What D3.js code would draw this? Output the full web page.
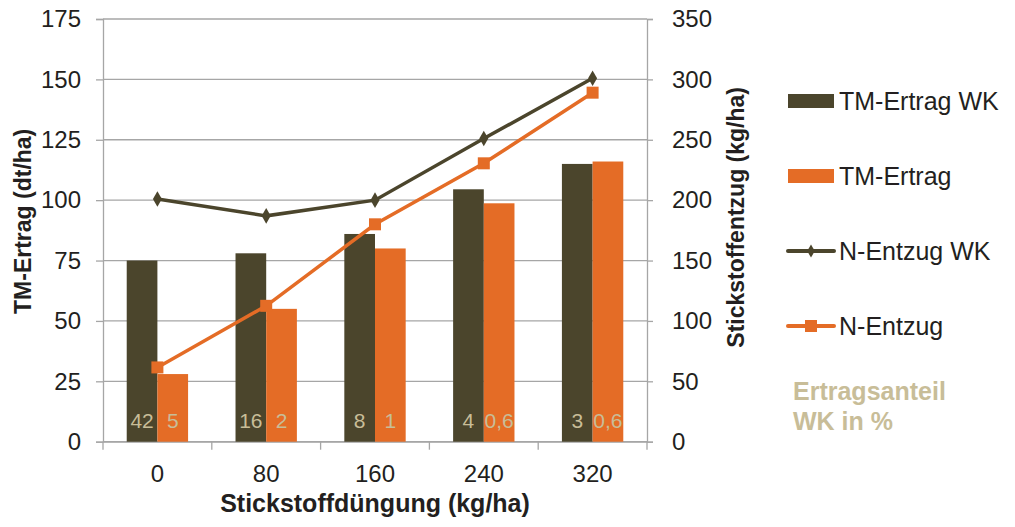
<!DOCTYPE html>
<html>
<head>
<meta charset="utf-8">
<script src="https://cdn.jsdelivr.net/npm/d3@7"></script>
<style>
  body { margin: 0; background: #fff; }
  text { font-family: "Liberation Sans", Arial, sans-serif; }
</style>
</head>
<body>
<svg id="chart" width="1015" height="527"></svg>
<script>
// Nitrogen fertilisation levels (kg/ha)
const categories = ["0", "80", "160", "240", "320"];
// Dry matter yield (dt/ha)
const ertragWK = [75, 78, 86, 104.5, 115];
const ertrag = [28, 55, 80, 98.7, 116];
// Nitrogen uptake (kg/ha)
const entzugWK = [201, 187, 200, 251, 301];
const entzug = [61.5, 112.5, 180, 230.5, 289];
// Yield share of weeds in %
const anteilWK = ["42", "16", "8", "4", "3"];
const anteil = ["5", "2", "1", "0,6", "0,6"];
// Axis ticks
const leftTicks = [0, 25, 50, 75, 100, 125, 150, 175];
const rightTicks = [0, 50, 100, 150, 200, 250, 300, 350];

const C_DARK = "#4b452c";
const C_ORANGE = "#e46c26";
const C_GRID = "#a6a6a6";
const C_TEXT = "#231f20";
const C_BEIGE = "#c8bd98";

const svg = d3.select("#chart");
const L = 103, R = 647, T = 19, B = 441.7;

const x = d3.scaleBand().domain(categories).range([L, R]).padding(0);
const yL = d3.scaleLinear().domain([0, 175]).range([B, T]);
const yR = d3.scaleLinear().domain([0, 350]).range([B, T]);
const bw = x.bandwidth();
const barW = bw * 0.282;
const cx = c => x(c) + bw / 2;

// Horizontal gridlines
svg.append("g").selectAll("line").data(leftTicks).join("line")
  .attr("x1", L).attr("x2", R)
  .attr("y1", d => yL(d)).attr("y2", d => yL(d))
  .attr("stroke", C_GRID).attr("stroke-width", 1.3);

// Left axis
const gL = svg.append("g").attr("transform", `translate(${L},0)`)
  .call(d3.axisLeft(yL).tickValues(leftTicks).tickSize(7).tickPadding(15));
// Right axis
const gR = svg.append("g").attr("transform", `translate(${R},0)`)
  .call(d3.axisRight(yR).tickValues(rightTicks).tickSize(6).tickPadding(19));
// Bottom axis (labels centred in bands)
const gB = svg.append("g").attr("transform", `translate(0,${B})`)
  .call(d3.axisBottom(x).tickSize(0).tickPadding(23));

[gL, gR, gB].forEach(g => {
  g.select(".domain").attr("stroke", C_GRID).attr("stroke-width", 1.3);
  g.selectAll(".tick line").attr("stroke", C_GRID).attr("stroke-width", 1.3);
  g.selectAll("text").attr("font-size", 24).attr("fill", C_TEXT)
    .style("font-family", '"Liberation Sans", Arial, sans-serif');
});

// Category boundary ticks on the x axis
const edges = categories.map(c => x(c)).concat([R]);
svg.append("g").selectAll("line").data(edges).join("line")
  .attr("x1", d => d).attr("x2", d => d)
  .attr("y1", B).attr("y2", B + 8)
  .attr("stroke", C_GRID).attr("stroke-width", 1.3);

// Bars
svg.append("g").selectAll("rect").data(categories).join("rect")
  .attr("x", c => cx(c) - barW)
  .attr("width", barW)
  .attr("y", (c, i) => yL(ertragWK[i]))
  .attr("height", (c, i) => B - yL(ertragWK[i]))
  .attr("fill", C_DARK);
svg.append("g").selectAll("rect").data(categories).join("rect")
  .attr("x", c => cx(c))
  .attr("width", barW)
  .attr("y", (c, i) => yL(ertrag[i]))
  .attr("height", (c, i) => B - yL(ertrag[i]))
  .attr("fill", C_ORANGE);

// Yield share labels inside the bars
svg.append("g").selectAll("text").data(categories).join("text")
  .attr("x", c => cx(c) - barW / 2).attr("y", 428)
  .attr("text-anchor", "middle").attr("font-size", 21).attr("fill", C_BEIGE)
  .text((c, i) => anteilWK[i]);
svg.append("g").selectAll("text").data(categories).join("text")
  .attr("x", c => cx(c) + barW / 2).attr("y", 428)
  .attr("text-anchor", "middle").attr("font-size", 21).attr("fill", C_BEIGE)
  .text((c, i) => anteil[i]);

// Nitrogen uptake lines
const line = d3.line().x(d => cx(d.c)).y(d => yR(d.v));
const ptsWK = categories.map((c, i) => ({ c, v: entzugWK[i] }));
const pts = categories.map((c, i) => ({ c, v: entzug[i] }));

svg.append("path").datum(ptsWK).attr("d", line)
  .attr("fill", "none").attr("stroke", C_DARK).attr("stroke-width", 3.5);
svg.append("g").selectAll("path").data(ptsWK).join("path")
  .attr("d", d3.symbol(d3.symbolDiamond, 70))
  .attr("transform", d => `translate(${cx(d.c)},${yR(d.v)})`)
  .attr("fill", C_DARK);

svg.append("path").datum(pts).attr("d", line)
  .attr("fill", "none").attr("stroke", C_ORANGE).attr("stroke-width", 3.5);
svg.append("g").selectAll("rect").data(pts).join("rect")
  .attr("x", d => cx(d.c) - 6).attr("y", d => yR(d.v) - 6)
  .attr("width", 12).attr("height", 12)
  .attr("fill", C_ORANGE);

// Axis titles
svg.append("text")
  .attr("transform", `translate(31,${(T + B) / 2 - 9}) rotate(-90)`)
  .attr("text-anchor", "middle").attr("font-size", 23).attr("font-weight", "bold")
  .attr("fill", C_TEXT).text("TM-Ertrag (dt/ha)");
svg.append("text")
  .attr("transform", `translate(744,${(T + B) / 2 - 13}) rotate(-90)`)
  .attr("text-anchor", "middle").attr("font-size", 23).attr("font-weight", "bold")
  .attr("fill", C_TEXT).text("Stickstoffentzug (kg/ha)");
svg.append("text")
  .attr("x", (L + R) / 2).attr("y", 512)
  .attr("text-anchor", "middle").attr("font-size", 25).attr("font-weight", "bold")
  .attr("fill", C_TEXT).text("Stickstoffdüngung (kg/ha)");

// Legend
const legend = svg.append("g");
const lx = 788, rowY = [101, 176, 251, 326];
legend.append("rect").attr("x", lx).attr("y", rowY[0] - 7).attr("width", 46).attr("height", 14).attr("fill", C_DARK);
legend.append("rect").attr("x", lx).attr("y", rowY[1] - 7).attr("width", 46).attr("height", 14).attr("fill", C_ORANGE);
legend.append("line").attr("x1", lx).attr("x2", lx + 46).attr("y1", rowY[2]).attr("y2", rowY[2])
  .attr("stroke", C_DARK).attr("stroke-width", 4).attr("stroke-linecap", "round");
legend.append("path").attr("d", d3.symbol(d3.symbolDiamond, 50))
  .attr("transform", `translate(${lx + 23},${rowY[2]})`).attr("fill", C_DARK);
legend.append("line").attr("x1", lx).attr("x2", lx + 46).attr("y1", rowY[3]).attr("y2", rowY[3])
  .attr("stroke", C_ORANGE).attr("stroke-width", 4).attr("stroke-linecap", "round");
legend.append("rect").attr("x", lx + 17).attr("y", rowY[3] - 6).attr("width", 12).attr("height", 12).attr("fill", C_ORANGE);

const legendLabels = ["TM-Ertrag WK", "TM-Ertrag", "N-Entzug WK", "N-Entzug"];
legend.selectAll("text.lab").data(legendLabels).join("text").attr("class", "lab")
  .attr("x", 839).attr("y", (d, i) => rowY[i] + 9)
  .attr("font-size", 25).attr("fill", C_TEXT).text(d => d);

legend.append("text").attr("x", 793).attr("y", 400)
  .attr("font-size", 25).attr("font-weight", "bold").attr("fill", C_BEIGE).text("Ertragsanteil");
legend.append("text").attr("x", 793).attr("y", 430)
  .attr("font-size", 25).attr("font-weight", "bold").attr("fill", C_BEIGE).text("WK in %");
</script>
</body>
</html>
